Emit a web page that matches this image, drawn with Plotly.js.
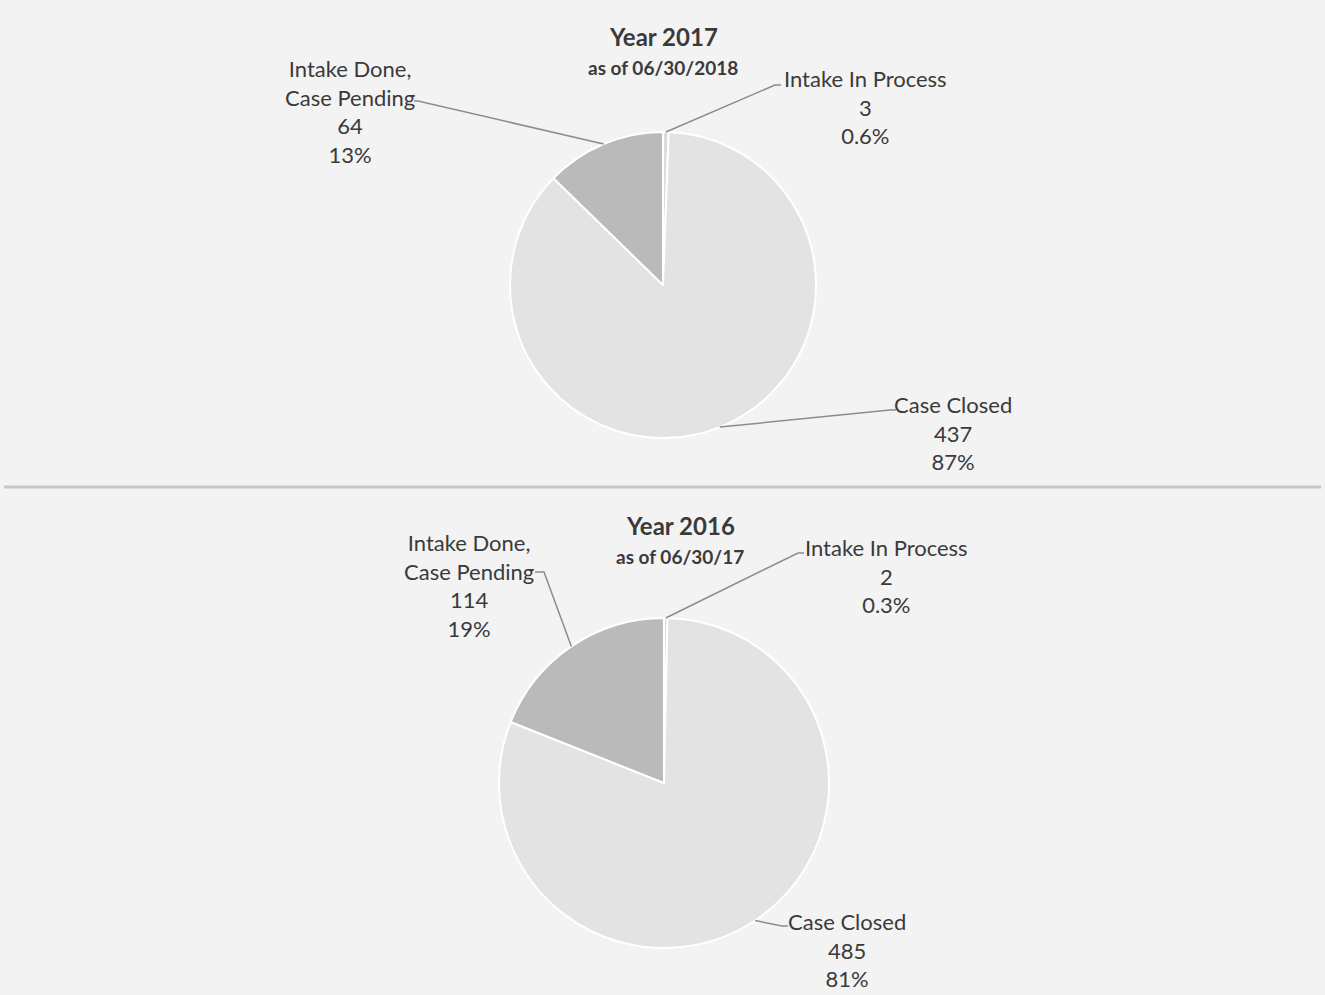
<!DOCTYPE html>
<html>
<head>
<meta charset="utf-8">
<script src="https://cdn.plot.ly/plotly-3.0.1.min.js"></script>
<style>
html,body{margin:0;padding:0;background:#f3f3f3;}
#chart{width:1325px;height:995px;}
</style>
</head>
<body>
<div id="chart"></div>
<script>
// ---- data ----
const categories = ["Intake In Process", "Case Closed", "Intake Done,<br>Case Pending"];
const values2017 = [3, 437, 64];
const percents2017 = ["0.6%", "87%", "13%"];
const values2016 = [2, 485, 114];
const percents2016 = ["0.3%", "81%", "19%"];
const titles = ["Year 2017", "Year 2016"];
const subtitles = ["as of 06/30/2018", "as of 06/30/17"];

// ---- layout helpers (pixels -> paper) ----
const W = 1325, H = 995;
const px = x => x / W;
const py = y => 1 - y / H;

const sliceColors = ["#dcdcdc", "#e3e3e3", "#bababa"];
const textColor = "#3a3a3a";
const lineColor = "#8c8c8c";
const FONT = "Lato, 'Open Sans', sans-serif";

// pie geometry (pixel center and radius)
const pies = [
  {cx: 663, cy: 285, r: 153, values: values2017, pct: percents2017,
   title: titles[0], sub: subtitles[0], tx: 663, ty: 37, sy: 67,
   labels: [
     {x: 865, y: 107, anchor: [781, 85], elbow: [775, 85]},
     {x: 953, y: 433, anchor: [896, 410], elbow: [890, 410]},
     {x: 350, y: 111, anchor: [414, 101], elbow: [418, 101]}
   ]},
  {cx: 664, cy: 783, r: 165, values: values2016, pct: percents2016,
   title: titles[1], sub: subtitles[1], tx: 680, ty: 525, sy: 556,
   labels: [
     {x: 886, y: 576, anchor: [804, 553], elbow: [798, 553]},
     {x: 847, y: 950, anchor: [788, 926], elbow: [782, 926]},
     {x: 469, y: 585, anchor: [535, 572], elbow: [544, 572]}
   ]}
];

const data = [];
const annotations = [];
const shapes = [];

function note(x, y, text, size) {
  annotations.push({x: px(x), y: py(y), xref: "paper", yref: "paper", showarrow: false,
    xanchor: "center", yanchor: "middle", align: "center",
    text: text, font: {family: FONT, size: size, color: textColor}});
}

pies.forEach(p => {
  data.push({
    type: "pie",
    values: p.values,
    labels: categories,
    sort: false,
    direction: "clockwise",
    rotation: 0,
    textinfo: "none",
    hoverinfo: "label+value+percent",
    showlegend: false,
    marker: {colors: sliceColors, line: {color: "#ffffff", width: 2}},
    domain: {x: [px(p.cx - p.r), px(p.cx + p.r)], y: [py(p.cy + p.r), py(p.cy - p.r)]}
  });
  note(p.tx, p.ty, "<b>" + p.title + "</b>", 24);
  note(p.tx, p.sy, "<b>" + p.sub + "</b>", 19);

  const total = p.values.reduce((a, b) => a + b, 0);
  let cum = 0;
  p.values.forEach((v, i) => {
    const mid = (cum + v / 2) / total * 2 * Math.PI;
    cum += v;
    const ex = p.cx + p.r * Math.sin(mid);
    const ey = p.cy - p.r * Math.cos(mid);
    const L = p.labels[i];
    note(L.x, L.y, categories[i] + "<br>" + v + "<br>" + p.pct[i], 22);
    shapes.push({type: "path", xref: "paper", yref: "paper",
      path: "M " + px(L.anchor[0]) + " " + py(L.anchor[1]) +
            " L " + px(L.elbow[0]) + " " + py(L.elbow[1]) +
            " L " + px(ex) + " " + py(ey),
      line: {color: lineColor, width: 1.5}});
  });
});

// separator line between the two charts
shapes.push({type: "line", xref: "paper", yref: "paper", x0: px(4), x1: px(1321), y0: py(487), y1: py(487),
  line: {color: "#c6c6c6", width: 3}});

const layout = {
  width: W, height: H,
  margin: {l: 0, r: 0, t: 0, b: 0},
  paper_bgcolor: "#f3f3f3",
  plot_bgcolor: "#f3f3f3",
  annotations: annotations,
  shapes: shapes
};

Plotly.newPlot("chart", data, layout, {displayModeBar: false});
</script>
</body>
</html>
